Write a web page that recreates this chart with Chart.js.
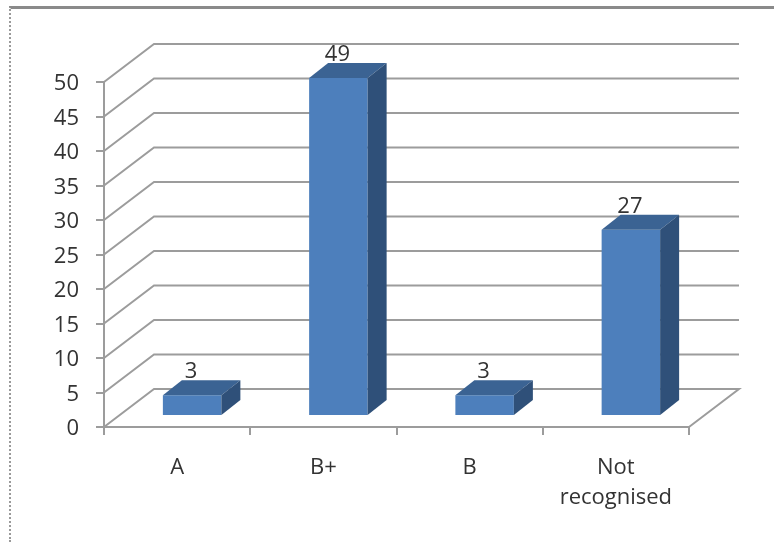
<!DOCTYPE html>
<html>
<head>
<meta charset="utf-8">
<style>
  html, body { margin: 0; padding: 0; background: #fff; overflow: hidden; }
  #wrap { position: relative; width: 774px; height: 542px; }
  #frame { position: absolute; left: 9px; top: 6px; width: 765px; height: 536px; box-sizing: border-box;
           border-top: 3px solid #8a8a8a; border-left: 2px dotted #9a9a9a; }
  canvas { position: absolute; left: 0; top: 0; }
</style>
<script src="https://cdn.jsdelivr.net/npm/chart.js@4"></script>
</head>
<body>
<div id="wrap">
  <div id="frame"></div>
  <canvas id="chart" width="774" height="542"></canvas>
</div>
<script>
const categories = ["A", "B+", "B", ["Not", "recognised"]];
const counts = [3, 49, 3, 27];

const gridColor = "#9c9c9c";
const textColor = "#333333";
const fontName = "'Open Sans', sans-serif";

// how far the back wall sits behind the axis plane
const wallDx = 50, wallDy = -38;
// bars stand part way into the floor
const barDx = 15, barDy = -11;
// depth of each bar
const depthDx = 19, depthDy = -15;

const wallPlugin = {
  id: "wall",
  beforeDatasetsDraw(chart) {
    const { ctx, scales: { x, y } } = chart;
    const left = x.left, right = x.right;
    ctx.save();
    ctx.strokeStyle = gridColor;
    ctx.lineWidth = 2;
    y.ticks.forEach(t => {
      const py = y.getPixelForValue(t.value);
      ctx.beginPath();
      ctx.moveTo(left, py);
      ctx.lineTo(left + wallDx, py + wallDy);
      ctx.lineTo(right + wallDx, py + wallDy);
      if (t.value === 0) ctx.lineTo(right, py);
      ctx.stroke();
    });
    ctx.restore();
    // bars are drawn shifted into the floor
    ctx.save();
    ctx.translate(barDx, barDy);
  },
  afterDatasetsDraw(chart) {
    const { ctx } = chart;
    ctx.restore();
    const bars = chart.getDatasetMeta(0).data;
    ctx.save();
    bars.forEach((bar, i) => {
      const half = bar.width / 2;
      const l = bar.x - half + barDx, r = bar.x + half + barDx;
      const t = bar.y + barDy, b = bar.base + barDy;
      // top face
      ctx.fillStyle = "#3b6393";
      ctx.beginPath();
      ctx.moveTo(l, t);
      ctx.lineTo(l + depthDx, t + depthDy);
      ctx.lineTo(r + depthDx, t + depthDy);
      ctx.lineTo(r, t);
      ctx.closePath();
      ctx.fill();
      // side face
      ctx.fillStyle = "#2f5079";
      ctx.beginPath();
      ctx.moveTo(r, t);
      ctx.lineTo(r + depthDx, t + depthDy);
      ctx.lineTo(r + depthDx, b + depthDy);
      ctx.lineTo(r, b);
      ctx.closePath();
      ctx.fill();
      // value label
      ctx.fillStyle = textColor;
      ctx.font = "22px " + fontName;
      ctx.textAlign = "center";
      ctx.textBaseline = "alphabetic";
      ctx.fillText(String(counts[i]), bar.x + barDx - 1, t + depthDy - 2);
    });
    ctx.restore();
  }
};

new Chart(document.getElementById("chart").getContext("2d"), {
  type: "bar",
  data: {
    labels: categories,
    datasets: [{
      data: counts,
      backgroundColor: "#4d7fbc",
      borderWidth: 0,
      barPercentage: 0.4,
      categoryPercentage: 1,
      clip: false
    }]
  },
  options: {
    responsive: false,
    animation: false,
    devicePixelRatio: 1,
    layout: { padding: { top: 82, right: 85, left: 0, bottom: 0 } },
    plugins: { legend: { display: false }, tooltip: { enabled: false }, title: { display: false } },
    scales: {
      x: {
        afterFit: s => { s.height = 115; },
        border: { color: gridColor, width: 2 },
        grid: { color: gridColor, lineWidth: 2, drawOnChartArea: false, tickLength: 8, tickColor: gridColor },
        ticks: { color: textColor, font: { family: fontName, size: 22, lineHeight: 1.36 }, padding: 18, maxRotation: 0, autoSkip: false }
      },
      y: {
        min: 0,
        max: 50,
        afterFit: s => { s.width = 104; },
        border: { color: gridColor, width: 2 },
        grid: { color: gridColor, lineWidth: 2, drawOnChartArea: false, tickLength: 8, tickColor: gridColor },
        ticks: { stepSize: 5, color: textColor, font: { family: fontName, size: 22 }, padding: 17, labelOffset: 2 }
      }
    }
  },
  plugins: [wallPlugin]
});
</script>
</body>
</html>
